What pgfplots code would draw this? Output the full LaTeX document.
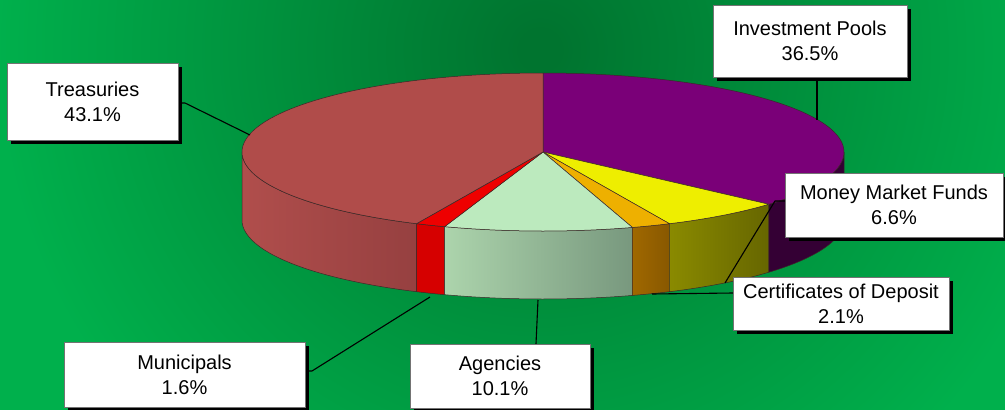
\documentclass[border=0pt]{standalone}
\usepackage{fontspec}
\setmainfont{Liberation Sans}
\usepackage{pgfplots}
\usepackage{pgfplotstable}
\pgfplotsset{compat=1.18}
\usetikzlibrary{shadows}

\pgfplotstableread{
label value
InvestmentPools 36.5
MoneyMarketFunds 6.6
CertificatesOfDeposit 2.1
Agencies 10.1
Municipals 1.6
Treasuries 43.1
}\piedata

\definecolor{bgin}{RGB}{0,116,47}
\definecolor{bgout}{RGB}{0,176,76}
\definecolor{trTop}{RGB}{176,76,74}
\definecolor{trSideL}{RGB}{176,78,76}
\definecolor{trSideR}{RGB}{150,64,64}
\definecolor{ipTop}{RGB}{122,0,120}
\definecolor{ipSide}{RGB}{52,0,52}
\definecolor{mmTop}{RGB}{238,238,0}
\definecolor{mmSideL}{RGB}{138,138,0}
\definecolor{mmSideR}{RGB}{102,102,0}
\definecolor{cdTop}{RGB}{238,176,0}
\definecolor{cdSideL}{RGB}{160,104,0}
\definecolor{cdSideR}{RGB}{136,88,0}
\definecolor{agTop}{RGB}{188,234,190}
\definecolor{agSideL}{RGB}{172,212,172}
\definecolor{agSideR}{RGB}{120,152,126}
\definecolor{muTop}{RGB}{238,0,0}
\definecolor{muSide}{RGB}{214,0,0}
\definecolor{edge}{RGB}{60,40,40}

% TikZ maps the path's bounding box onto the central 50bp square of the shading
\pgfdeclareradialshading{bgshade}{\pgfpoint{0bp}{0bp}}{color(0bp)=(bgin); color(0.7bp)=(bgin); color(20bp)=(bgout); color(50bp)=(bgout)}

% pie geometry (axis units = px)
\newcommand{\cx}{543}
\newcommand{\cy}{152}
\newcommand{\rx}{301}
\newcommand{\ry}{79}
\newcommand{\dep}{68}

\newcommand{\topslice}[3]{%
  \addplot[#3, draw=edge, line width=0.5bp, domain=#1:#2, samples=80, variable=\t]
    ({\cx+\rx*cos(\t)},{\cy-\ry*sin(\t)}) -- (\cx,\cy) -- cycle;}
\newcommand{\sidewall}[3]{%
  \addplot[#3, draw=edge, line width=0.5bp, domain=0:3, samples=151, variable=\t]
    ({\cx+\rx*cos((#1)+((#2)-(#1))*(min(\t,1)-max(\t-2,0)))},
     {\cy-\ry*sin((#1)+((#2)-(#1))*(min(\t,1)-max(\t-2,0)))+\dep*min(max(\t-1,0),1)}) -- cycle;}

\tikzset{lbl/.style={draw=black!55, line width=0.6bp, fill=white, align=center,
  inner sep=0pt, font=\fontsize{20bp}{25bp}\selectfont,
  drop shadow={shadow xshift=4bp, shadow yshift=-4bp, fill=black, opacity=1}},
  conn/.style={black, line width=1.1bp}}

\begin{document}
\begin{tikzpicture}
\useasboundingbox (0,0) rectangle (1005bp,410bp);
\clip (0,0) rectangle (1005bp,410bp);
\fill[bgout] (0,0) rectangle (1005bp,410bp);
\shade[shading=bgshade] (540bp,360bp) circle (680bp);

\pgfplotstablegetelem{0}{value}\of\piedata \let\vA\pgfplotsretval
\pgfplotstablegetelem{1}{value}\of\piedata \let\vB\pgfplotsretval
\pgfplotstablegetelem{2}{value}\of\piedata \let\vC\pgfplotsretval
\pgfplotstablegetelem{3}{value}\of\piedata \let\vD\pgfplotsretval
\pgfplotstablegetelem{4}{value}\of\piedata \let\vE\pgfplotsretval
\pgfplotstablegetelem{5}{value}\of\piedata \let\vF\pgfplotsretval
\pgfmathsetmacro\aZ{90}
\pgfmathsetmacro\aA{\aZ-3.6*\vA}
\pgfmathsetmacro\aB{\aA-3.6*\vB}
\pgfmathsetmacro\aC{\aB-3.6*\vC}
\pgfmathsetmacro\aD{\aC-3.6*\vD}
\pgfmathsetmacro\aE{\aD-3.6*\vE}
\pgfmathsetmacro\aF{\aE-3.6*\vF}

\begin{axis}[at={(0,0)}, anchor=south west, width=1005bp, height=410bp,
  scale only axis, xmin=0, xmax=1005, ymin=0, ymax=410, y dir=reverse,
  hide axis, clip=false]
% side walls (front half only)
\sidewall{-180}{\aE}{left color=trSideL, right color=trSideR}
\sidewall{\aE}{\aD}{fill=muSide}
\sidewall{\aD}{\aC}{left color=agSideL, right color=agSideR}
\sidewall{\aC}{\aB}{left color=cdSideL, right color=cdSideR}
\sidewall{\aB}{\aA}{left color=mmSideL, right color=mmSideR}
\sidewall{\aA}{0}{fill=ipSide}
% top faces
\topslice{\aA}{\aZ}{fill=ipTop}
\topslice{\aB}{\aA}{fill=mmTop}
\topslice{\aC}{\aB}{fill=cdTop}
\topslice{\aD}{\aC}{fill=agTop}
\topslice{\aE}{\aD}{fill=muTop}
\topslice{\aF}{\aE}{fill=trTop}

% leader lines
\draw[conn] (817,77) -- (817,120);
\draw[conn] (178,103) -- (185,103) -- (250,135);
\draw[conn] (785,201) -- (775,201) -- (725,283);
\draw[conn] (733,293) -- (652,294);
\draw[conn] (538,300) -- (536,344);
\draw[conn] (305,371) -- (312,371) -- (430,297);

% labels
\node[lbl, minimum width=194bp, minimum height=72bp] at (810,41) {Investment Pools\\36.5\%};
\node[lbl, minimum width=171bp, minimum height=77bp] at (92.5,101.5) {Treasuries\\43.1\%};
\node[lbl, minimum width=218bp, minimum height=64bp] at (894,205) {Money Market Funds\\6.6\%};
\node[lbl, minimum width=216bp, minimum height=53bp] at (841,303.5) {Certificates of Deposit\\2.1\%};
\node[lbl, minimum width=241bp, minimum height=65bp] at (184.5,374.5) {Municipals\\1.6\%};
\node[lbl, minimum width=180bp, minimum height=64bp] at (500,376) {Agencies\\10.1\%};
\end{axis}
\end{tikzpicture}
\end{document}
